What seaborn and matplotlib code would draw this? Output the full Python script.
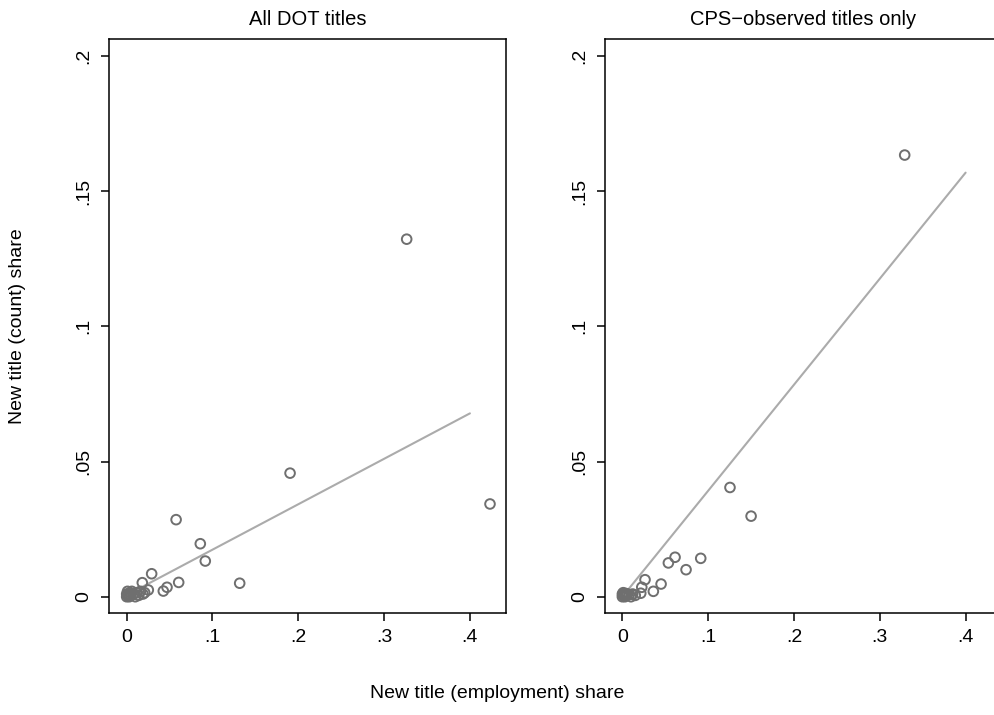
import matplotlib
matplotlib.use("Agg")
import matplotlib.pyplot as plt
import seaborn as sns
import numpy as np
import pandas as pd

# ---------------------------------------------------------
# Data
# ---------------------------------------------------------
# All DOT titles
dot_emp = [0.3263, 0.4234, 0.1904, 0.0576, 0.0858, 0.0916, 0.0606, 0.1317,
           0.0291, 0.0182, 0.0470, 0.0427, 0.0252,
           0.0000, 0.0010, 0.0020, 0.0030, 0.0040, 0.0050, 0.0060, 0.0080,
           0.0100, 0.0120, 0.0140, 0.0160, 0.0190, 0.0210, 0.0010, 0.0000]
dot_cnt = [0.1322, 0.0343, 0.0457, 0.0285, 0.0196, 0.0132, 0.0053, 0.0050,
           0.0085, 0.0052, 0.0035, 0.0021, 0.0025,
           0.0000, 0.0005, 0.0010, 0.0000, 0.0015, 0.0005, 0.0020, 0.0010,
           0.0000, 0.0015, 0.0005, 0.0020, 0.0010, 0.0015, 0.0020, 0.0010]

# CPS-observed titles only
cps_emp = [0.3290, 0.1254, 0.1500, 0.0614, 0.0536, 0.0913, 0.0742, 0.0264,
           0.0451, 0.0361, 0.0214, 0.0226,
           0.0000, 0.0010, 0.0020, 0.0030, 0.0040, 0.0050, 0.0060, 0.0080,
           0.0100, 0.0120, 0.0150, 0.0010, 0.0000]
cps_cnt = [0.1633, 0.0404, 0.0298, 0.0146, 0.0125, 0.0142, 0.0100, 0.0063,
           0.0047, 0.0020, 0.0013, 0.0035,
           0.0000, 0.0005, 0.0010, 0.0000, 0.0012, 0.0005, 0.0010, 0.0008,
           0.0000, 0.0010, 0.0005, 0.0015, 0.0010]

# linear fits (intercept, slope) and the range they are drawn over
fit_range = [0.0, 0.4]
dot_fit = (0.0006, 0.168)
cps_fit = (0.0000, 0.392)

panel_titles = ["All DOT titles", "CPS\u2212observed titles only"]
xticks = [0, 0.1, 0.2, 0.3, 0.4]
xtick_labels = ["0", ".1", ".2", ".3", ".4"]
yticks = [0, 0.05, 0.1, 0.15, 0.2]
ytick_labels = ["0", ".05", ".1", ".15", ".2"]

# ---------------------------------------------------------
sns.set_theme(style="white")
plt.rcParams['font.family'] = ['Liberation Sans', 'DejaVu Sans']
plt.rcParams['text.color'] = 'black'
plt.rcParams['xtick.color'] = 'black'
plt.rcParams['ytick.color'] = 'black'
plt.rcParams['axes.labelcolor'] = 'black'

fig = plt.figure(figsize=(9.95, 7.15), dpi=100)
W, H = 995, 715
ax_w, ax_h = 396.7, 573.4
positions = [(109, 612.7), (604.7, 612.7)]

panels = [(dot_emp, dot_cnt, dot_fit), (cps_emp, cps_cnt, cps_fit)]

for i, ((xs, ys, fit), (left, bottom)) in enumerate(zip(panels, positions)):
    ax = fig.add_axes([left / W, (H - bottom) / H, ax_w / W, ax_h / H])
    df = pd.DataFrame({'emp': xs, 'cnt': ys})
    sns.scatterplot(x='emp', y='cnt', data=df, ax=ax, marker='o', s=48,
                    facecolor='none', edgecolor='#6f6f6f', linewidth=1.4,
                    zorder=3)
    fx = np.array(fit_range)
    fit_df = pd.DataFrame({'x': fx, 'y': fit[0] + fit[1] * fx})
    sns.lineplot(x='x', y='y', data=fit_df, ax=ax, color='#ababab',
                 linewidth=1.5, zorder=2)

    ax.set_xlim(-0.0206, 0.4417)
    ax.set_ylim(-0.0059, 0.2061)
    ax.set_xticks(xticks)
    ax.set_xticklabels(xtick_labels)
    ax.set_yticks(yticks)
    ax.set_yticklabels(ytick_labels, rotation=90, va='center')
    ax.tick_params(direction='out', length=6, width=1.1, color='black',
                   labelcolor='black', labelsize=14, pad=6,
                   left=True, bottom=True)
    for sp in ax.spines.values():
        sp.set_color('black')
        sp.set_linewidth(1.1)
    ax.set_xlabel('')
    ax.set_ylabel('')
    ax.set_title(panel_titles[i], fontsize=14.5, pad=10, color='black')

fig.text(497 / W, 1 - 693 / H, "New title (employment) share",
         ha='center', va='center', fontsize=14, color='black')
fig.text(18 / W, 1 - 326 / H, "New title (count) share",
         ha='center', va='center', rotation=90, fontsize=14, color='black')

fig.savefig("out.png", dpi=100, facecolor='white')
